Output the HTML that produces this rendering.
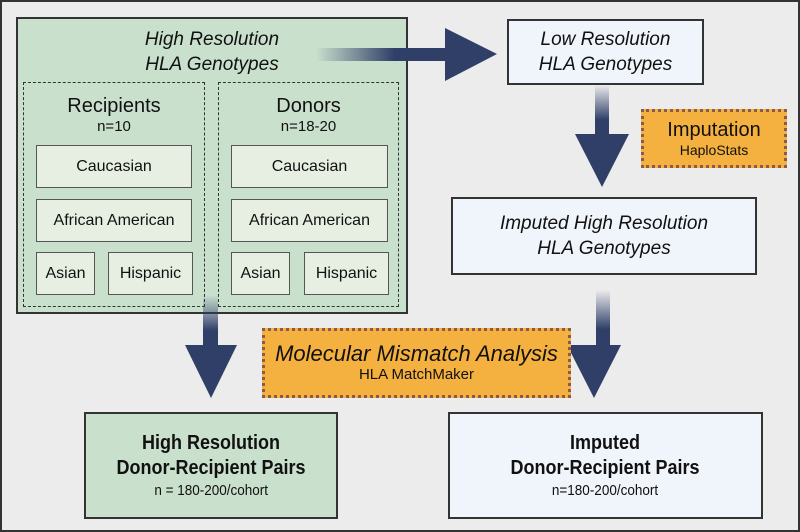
<!DOCTYPE html>
<html><head><meta charset="utf-8"><style>
body{margin:0;width:800px;height:532px;overflow:hidden;background:#ececec;font-family:"Liberation Sans",sans-serif;color:#111}
.a{position:absolute;box-sizing:border-box}
.c{display:flex;flex-direction:column;align-items:center;justify-content:center;text-align:center}
.g{background:#c9e0cc;border:2px solid #333}
.w{background:#f0f4fb;border:2px solid #333}
.e{background:#e6efe2;border:1.5px solid #555;font-size:16px}
.o{background:#f4b13f;border:3px dotted #8a5a4a}
.d{border:1.5px dashed #333}
i{font-style:italic}
.n span,.n b{transform:scaleX(0.9)}
</style></head><body>
<div class="a" style="left:0;top:0;width:800px;height:532px;border:2px solid #333"></div>
<div class="a g" style="left:16px;top:17px;width:392px;height:297px"></div>
<div class="a c" style="left:16px;top:27px;width:392px;font-size:19px;line-height:25px"><i>High Resolution<br>HLA Genotypes</i></div>
<div class="a d" style="left:23px;top:82px;width:182px;height:225px"></div>
<div class="a d" style="left:218px;top:82px;width:181px;height:225px"></div>
<div class="a c" style="left:23px;top:94px;width:182px;font-size:20px;line-height:24px">Recipients<span style="font-size:15px;line-height:18px">n=10</span></div>
<div class="a c" style="left:218px;top:94px;width:181px;font-size:20px;line-height:24px">Donors<span style="font-size:15px;line-height:18px">n=18-20</span></div>
<div class="a c e" style="left:36px;top:145px;width:156px;height:43px">Caucasian</div>
<div class="a c e" style="left:36px;top:199px;width:156px;height:43px">African American</div>
<div class="a c e" style="left:36px;top:252px;width:59px;height:43px">Asian</div>
<div class="a c e" style="left:108px;top:252px;width:85px;height:43px">Hispanic</div>
<div class="a c e" style="left:231px;top:145px;width:157px;height:43px">Caucasian</div>
<div class="a c e" style="left:231px;top:199px;width:157px;height:43px">African American</div>
<div class="a c e" style="left:231px;top:252px;width:59px;height:43px">Asian</div>
<div class="a c e" style="left:304px;top:252px;width:85px;height:43px">Hispanic</div>
<svg class="a" style="left:0;top:0" width="800" height="532">
<defs>
<linearGradient id="h" x1="0" x2="1"><stop offset="0" stop-color="#2f3f68" stop-opacity="0"/><stop offset="0.6" stop-color="#2f3f68"/></linearGradient>
<linearGradient id="v" x1="0" y1="0" x2="0" y2="1"><stop offset="0" stop-color="#2f3f68" stop-opacity="0"/><stop offset="0.7" stop-color="#2f3f68"/></linearGradient>
</defs>
<g fill="#2f3f68">
<rect x="316" y="48" width="131" height="13" fill="url(#h)"/><polygon points="445,28 497,54 445,81"/>
<rect x="595" y="85" width="14" height="50" fill="url(#v)"/><polygon points="575,134 629,134 602,187"/>
<rect x="596" y="290" width="14" height="56" fill="url(#v)"/><polygon points="567,345 621,345 594,398"/>
<rect x="203" y="295" width="15" height="51" fill="url(#v)"/><polygon points="185,345 237,345 211,398"/>
</g></svg>
<div class="a c w" style="left:507px;top:19px;width:197px;height:66px;font-size:19px;line-height:25px"><i>Low Resolution<br>HLA Genotypes</i></div>
<div class="a c o" style="left:641px;top:109px;width:146px;height:59px;font-size:20px;line-height:22px">Imputation<span style="font-size:14px;line-height:18px">HaploStats</span></div>
<div class="a c w" style="left:451px;top:197px;width:306px;height:78px;font-size:19px;line-height:25px"><i>Imputed High Resolution<br>HLA Genotypes</i></div>
<div class="a c o" style="left:262px;top:328px;width:309px;height:70px;font-size:22px;line-height:24px"><i>Molecular Mismatch Analysis</i><span style="font-size:15px;line-height:18px">HLA MatchMaker</span></div>
<div class="a c g n" style="left:84px;top:412px;width:254px;height:107px;font-size:20px;line-height:25px"><b>High Resolution<br>Donor-Recipient Pairs</b><span style="font-size:15px;line-height:20px">n = 180-200/cohort</span></div>
<div class="a c w n" style="left:448px;top:412px;width:315px;height:107px;font-size:20px;line-height:25px"><b>Imputed<br>Donor-Recipient Pairs</b><span style="font-size:15px;line-height:20px">n=180-200/cohort</span></div>
</body></html>
